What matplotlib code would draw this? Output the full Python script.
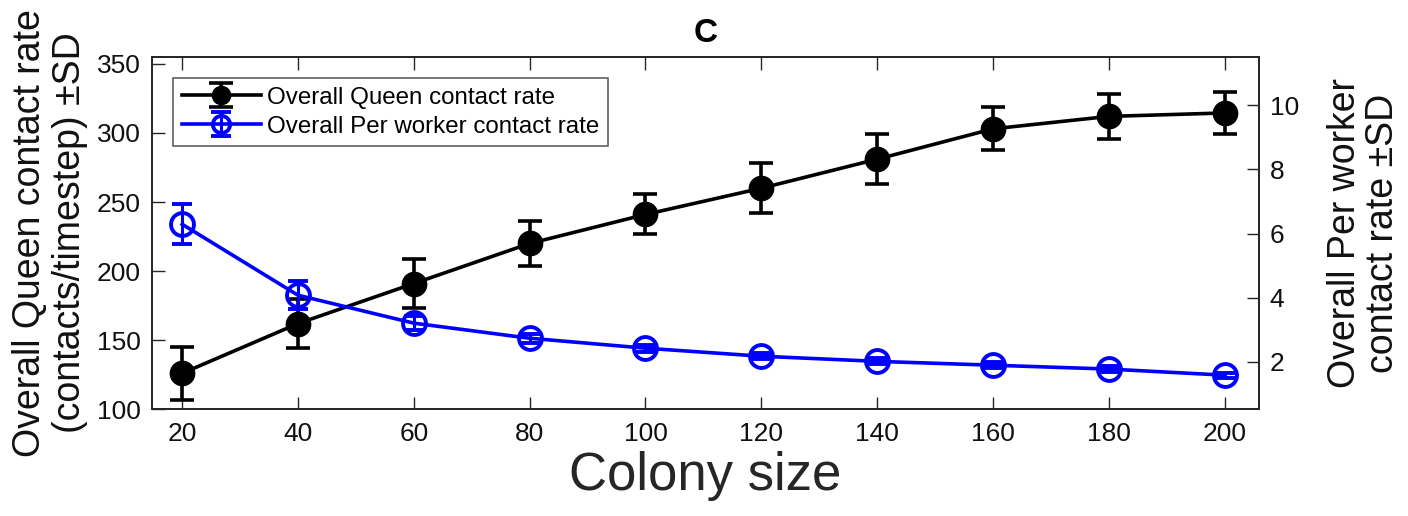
import matplotlib.pyplot as plt
import numpy as np

plt.rcParams['font.family'] = ['Liberation Sans', 'DejaVu Sans']

colony_size = [20, 40, 60, 80, 100, 120, 140, 160, 180, 200]

queen_rate = [126, 162, 191, 220, 241, 260, 281, 303, 312, 314.5]
queen_sd = [19, 18, 18, 16.5, 14.5, 18, 18, 15.5, 16, 15.5]

worker_rate = [6.29, 4.08, 3.21, 2.74, 2.43, 2.18, 2.02, 1.90, 1.78, 1.59]
worker_sd = [0.62, 0.44, 0.22, 0.14, 0.11, 0.10, 0.09, 0.09, 0.09, 0.08]

axis_col = '#262626'
text_col = '#111111'

fig = plt.figure(figsize=(14.08, 5.16), dpi=100)
ax = fig.add_axes([0.108, 0.207, 0.786, 0.6825])
ax2 = ax.twinx()

h1 = ax.errorbar(colony_size, queen_rate, yerr=queen_sd, color='black',
                 lw=2.6, marker='o', ms=17.5, mfc='black', mec='black',
                 elinewidth=2.6, capsize=8.5, capthick=2.6,
                 label='Overall Queen contact rate')
h2 = ax2.errorbar(colony_size, worker_rate, yerr=worker_sd, color='#0000ff',
                  lw=2.6, marker='o', ms=16.5, mfc='none', mec='#0000ff', mew=2.8,
                  elinewidth=2.2, capsize=7, capthick=2.2,
                  label='Overall Per worker contact rate')

ax.set_xlim(14.8, 205.9)
ax.set_ylim(100, 355)
ax2.set_ylim(0.53, 11.5)
ax.set_xticks(colony_size)
ax.set_yticks(np.arange(100, 351, 50))
ax2.set_yticks([2, 4, 6, 8, 10])

for a in (ax, ax2):
    for s in a.spines.values():
        s.set_color(axis_col)
        s.set_linewidth(1.3)
ax.tick_params(axis='x', direction='in', length=9, width=1.0, top=True,
               labelsize=19, colors=axis_col, labelcolor=text_col, pad=9)
ax.tick_params(axis='y', direction='in', length=9, width=1.0,
               labelsize=19, colors=axis_col, labelcolor=text_col, pad=8)
ax2.tick_params(axis='y', direction='in', length=9, width=1.0,
                labelsize=19, colors=axis_col, labelcolor=text_col, pad=8)

ax.set_xlabel('Colony size', fontsize=38, color=axis_col, labelpad=4)
ax.set_ylabel('Overall Queen contact rate\n(contacts/timestep) \u00b1SD',
              fontsize=27, linespacing=1.15, color=text_col)
ax.yaxis.set_label_coords(-0.058, 0.5)
ax2.set_ylabel('Overall Per worker\ncontact rate \u00b1SD', fontsize=27,
               rotation=90, linespacing=1.05, color=text_col)
ax2.yaxis.set_label_coords(1.062, 0.5)
ax.set_title('C', fontsize=24, fontweight='bold', pad=11)

leg = ax2.legend(handles=[h1, h2], loc='upper left', fontsize=17.4,
                 bbox_to_anchor=(0.019, 0.94), handlelength=3.3,
                 handletextpad=0.25, borderpad=0.35, labelspacing=0.3,
                 borderaxespad=0.0, fancybox=False, markerscale=0.75)
leg.get_frame().set_edgecolor(axis_col)
leg.get_frame().set_linewidth(1.1)

fig.savefig('out.png', dpi=100)
